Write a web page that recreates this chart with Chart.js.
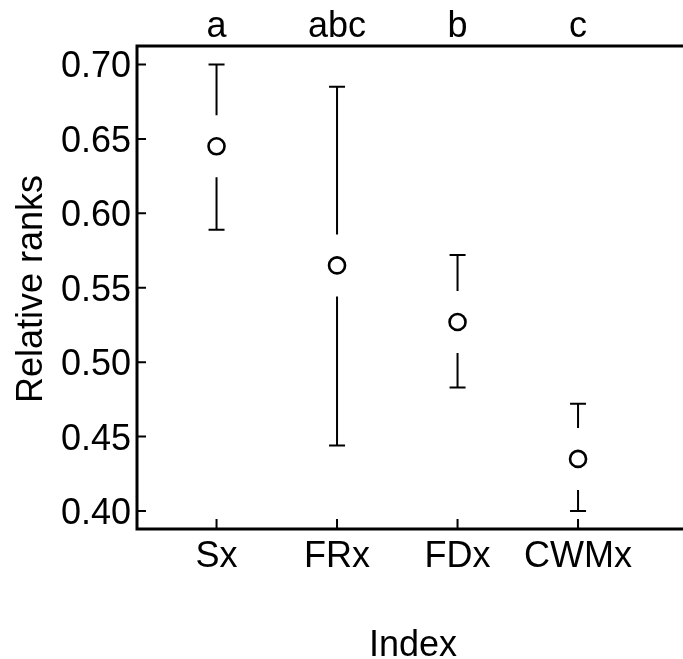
<!DOCTYPE html>
<html>
<head>
<meta charset="utf-8">
<script src="https://cdn.jsdelivr.net/npm/chart.js@4/dist/chart.umd.min.js"></script>
<style>
  html, body { margin: 0; padding: 0; background: #fff; }
  #wrap { width: 683px; height: 659px; }
</style>
</head>
<body>
<div id="wrap"><canvas id="chart" width="683" height="659"></canvas></div>
<script>
const categories = ['Sx', 'FRx', 'FDx', 'CWMx'];
const groupLetters = ['a', 'abc', 'b', 'c'];
const means = [0.645, 0.565, 0.527, 0.435];
const upper = [0.700, 0.685, 0.572, 0.472];
const lower = [0.589, 0.444, 0.483, 0.400];
const yTicks = [0.40, 0.45, 0.50, 0.55, 0.60, 0.65, 0.70];

const FONT = '36px "Liberation Sans", Arial, Helvetica, sans-serif';

// axes, inward ticks, labels and gapped error bars (R plotCI look)
const rStyle = {
  id: 'rStyle',
  beforeDatasetsDraw(chart) {
    const { ctx, chartArea: a, scales: { x, y } } = chart;
    const W = chart.width;
    ctx.save();
    ctx.strokeStyle = '#000';
    ctx.lineCap = 'butt';

    // error bars with a gap around the point
    const gap = 31;
    ctx.lineWidth = 2;
    categories.forEach((c, i) => {
      const px = x.getPixelForValue(i + 1);
      const pm = y.getPixelForValue(means[i]);
      const pu = y.getPixelForValue(upper[i]);
      const pl = y.getPixelForValue(lower[i]);
      ctx.beginPath();
      ctx.moveTo(px, pu); ctx.lineTo(px, pm - gap);
      ctx.moveTo(px, pm + gap); ctx.lineTo(px, pl);
      ctx.moveTo(px - 8, pu); ctx.lineTo(px + 8, pu);
      ctx.moveTo(px - 8, pl); ctx.lineTo(px + 8, pl);
      ctx.stroke();
    });

    // box: top, left, bottom (right side runs off the page)
    ctx.lineWidth = 3;
    ctx.beginPath();
    ctx.moveTo(W + 5, a.top);
    ctx.lineTo(a.left, a.top);
    ctx.lineTo(a.left, a.bottom);
    ctx.lineTo(W + 5, a.bottom);
    ctx.stroke();

    // inward ticks
    ctx.lineWidth = 2;
    ctx.beginPath();
    yTicks.forEach((v) => {
      const py = y.getPixelForValue(v);
      ctx.moveTo(a.left, py); ctx.lineTo(a.left + 9, py);
    });
    categories.forEach((c, i) => {
      const px = x.getPixelForValue(i + 1);
      ctx.moveTo(px, a.bottom); ctx.lineTo(px, a.bottom - 10);
    });
    ctx.stroke();

    // text
    ctx.fillStyle = '#000';
    ctx.font = FONT;
    ctx.textBaseline = 'alphabetic';
    ctx.textAlign = 'right';
    yTicks.forEach((v) => {
      ctx.fillText(v.toFixed(2), a.left - 6, y.getPixelForValue(v) + 13);
    });
    ctx.textAlign = 'center';
    categories.forEach((c, i) => {
      const px = x.getPixelForValue(i + 1);
      ctx.fillText(c, px, a.bottom + 38);
      ctx.fillText(groupLetters[i], px, a.top - 9);
    });
    ctx.fillText('Index', 413, 656);
    ctx.translate(42, 289);
    ctx.rotate(-Math.PI / 2);
    ctx.fillText('Relative ranks', 0, 0);
    ctx.restore();
  }
};

new Chart(document.getElementById('chart'), {
  type: 'scatter',
  data: {
    datasets: [{
      data: means.map((m, i) => ({ x: i + 1, y: m })),
      pointStyle: 'circle',
      pointRadius: 8,
      pointBorderWidth: 2.6,
      pointBorderColor: '#000',
      pointBackgroundColor: 'rgba(255,255,255,0)',
    }]
  },
  options: {
    responsive: false,
    animation: false,
    layout: { padding: { left: 137, top: 46, right: 0, bottom: 130 } },
    scales: {
      x: { type: 'linear', min: 0.34, max: 4.783, display: false },
      y: { type: 'linear', min: 0.3879, max: 0.7124, display: false }
    },
    plugins: { legend: { display: false }, tooltip: { enabled: false } }
  },
  plugins: [rStyle]
});
</script>
</body>
</html>
